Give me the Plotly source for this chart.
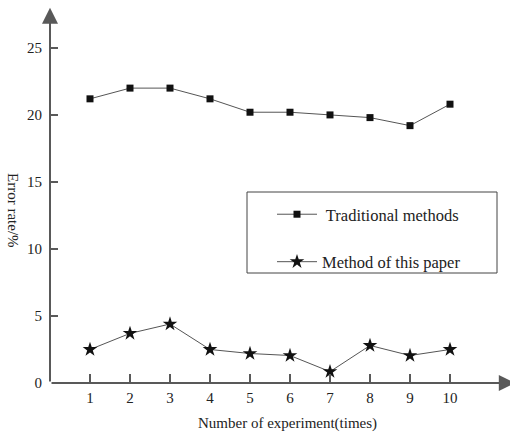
import plotly.graph_objects as go

experiments = [1, 2, 3, 4, 5, 6, 7, 8, 9, 10]
traditional = [21.2, 22.0, 22.0, 21.2, 20.2, 20.2, 20.0, 19.8, 19.2, 20.8]
this_paper = [2.5, 3.7, 4.4, 2.5, 2.2, 2.05, 0.85, 2.8, 2.05, 2.5]
y_ticks = [0, 5, 10, 15, 20, 25]

FONT = "Liberation Serif"
AX = "#595959"
W, H = 510, 433
L, R, T, B = 50, 0, 5, 50
PW, PH = W - L - R, H - T - B


def px_x(p):
    return (p - L) / PW


def px_y(p):
    return (H - B - p) / PH


fig = go.Figure()
fig.add_trace(go.Scatter(
    x=experiments, y=traditional, mode="lines+markers",
    name=" Traditional methods", legendgroup="a",
    line=dict(color="#555555", width=1),
    marker=dict(symbol="square", size=7, color="#111111"),
))
fig.add_trace(go.Scatter(
    x=experiments, y=this_paper, mode="lines+markers",
    name="Method of this paper", legendgroup="b",
    line=dict(color="#555555", width=1),
    marker=dict(symbol="star", size=11, color="#111111"),
))

fig.update_layout(
    width=W, height=H,
    margin=dict(l=L, r=R, t=T, b=B),
    paper_bgcolor="white", plot_bgcolor="white",
    font=dict(family=FONT, size=15, color="#222222"),
    showlegend=True,
    legend=dict(
        x=px_x(272), y=px_y(197), xanchor="left", yanchor="top",
        borderwidth=0, bgcolor="rgba(0,0,0,0)",
        font=dict(family=FONT, size=16.5, color="#222222"),
        tracegroupgap=23, itemwidth=40,
    ),
    xaxis=dict(
        range=[0, 11.5], tickvals=experiments, ticks="inside", ticklen=9,
        tickwidth=1.5, tickcolor=AX, showgrid=False, zeroline=False,
        showline=False, ticklabelstandoff=4,
        tickfont=dict(family=FONT, size=15, color="#222222"),
    ),
    yaxis=dict(
        range=[0, 28.2], tickvals=y_ticks, ticks="inside", ticklen=8,
        tickwidth=1.5, tickcolor=AX, showgrid=False, zeroline=False,
        showline=False, ticklabelstandoff=7,
        tickfont=dict(family=FONT, size=15, color="#222222"),
    ),
)

# legend frame
fig.add_shape(type="rect", xref="paper", yref="paper",
              x0=px_x(247), x1=px_x(497), y0=px_y(273), y1=px_y(192),
              line=dict(color="#444444", width=1), fillcolor="rgba(0,0,0,0)")

# axis arrows
fig.add_annotation(x=0, y=28.0, ax=0, ay=0, xref="x", yref="y", axref="x", ayref="y",
                   showarrow=True, arrowhead=2, arrowsize=1.6, arrowwidth=2, arrowcolor=AX, text="")
fig.add_annotation(x=11.62, y=0, ax=0, ay=0, xref="x", yref="y", axref="x", ayref="y",
                   showarrow=True, arrowhead=2, arrowsize=1.6, arrowwidth=2, arrowcolor=AX, text="")

fig.add_annotation(text="Number of experiment(times)", xref="paper", yref="paper",
                   x=px_x(287), y=px_y(423), showarrow=False,
                   xanchor="center", yanchor="middle",
                   font=dict(family=FONT, size=15, color="#222222"))
fig.add_annotation(text="Error rate/%", xref="paper", yref="paper",
                   x=px_x(13), y=px_y(210), showarrow=False,
                   textangle=90, xanchor="center", yanchor="middle",
                   font=dict(family=FONT, size=15, color="#222222"))

fig.write_html("out.html", config={"displayModeBar": False},
               post_script="document.body.style.margin='0';document.body.style.padding='0';document.body.style.overflow='hidden';")
